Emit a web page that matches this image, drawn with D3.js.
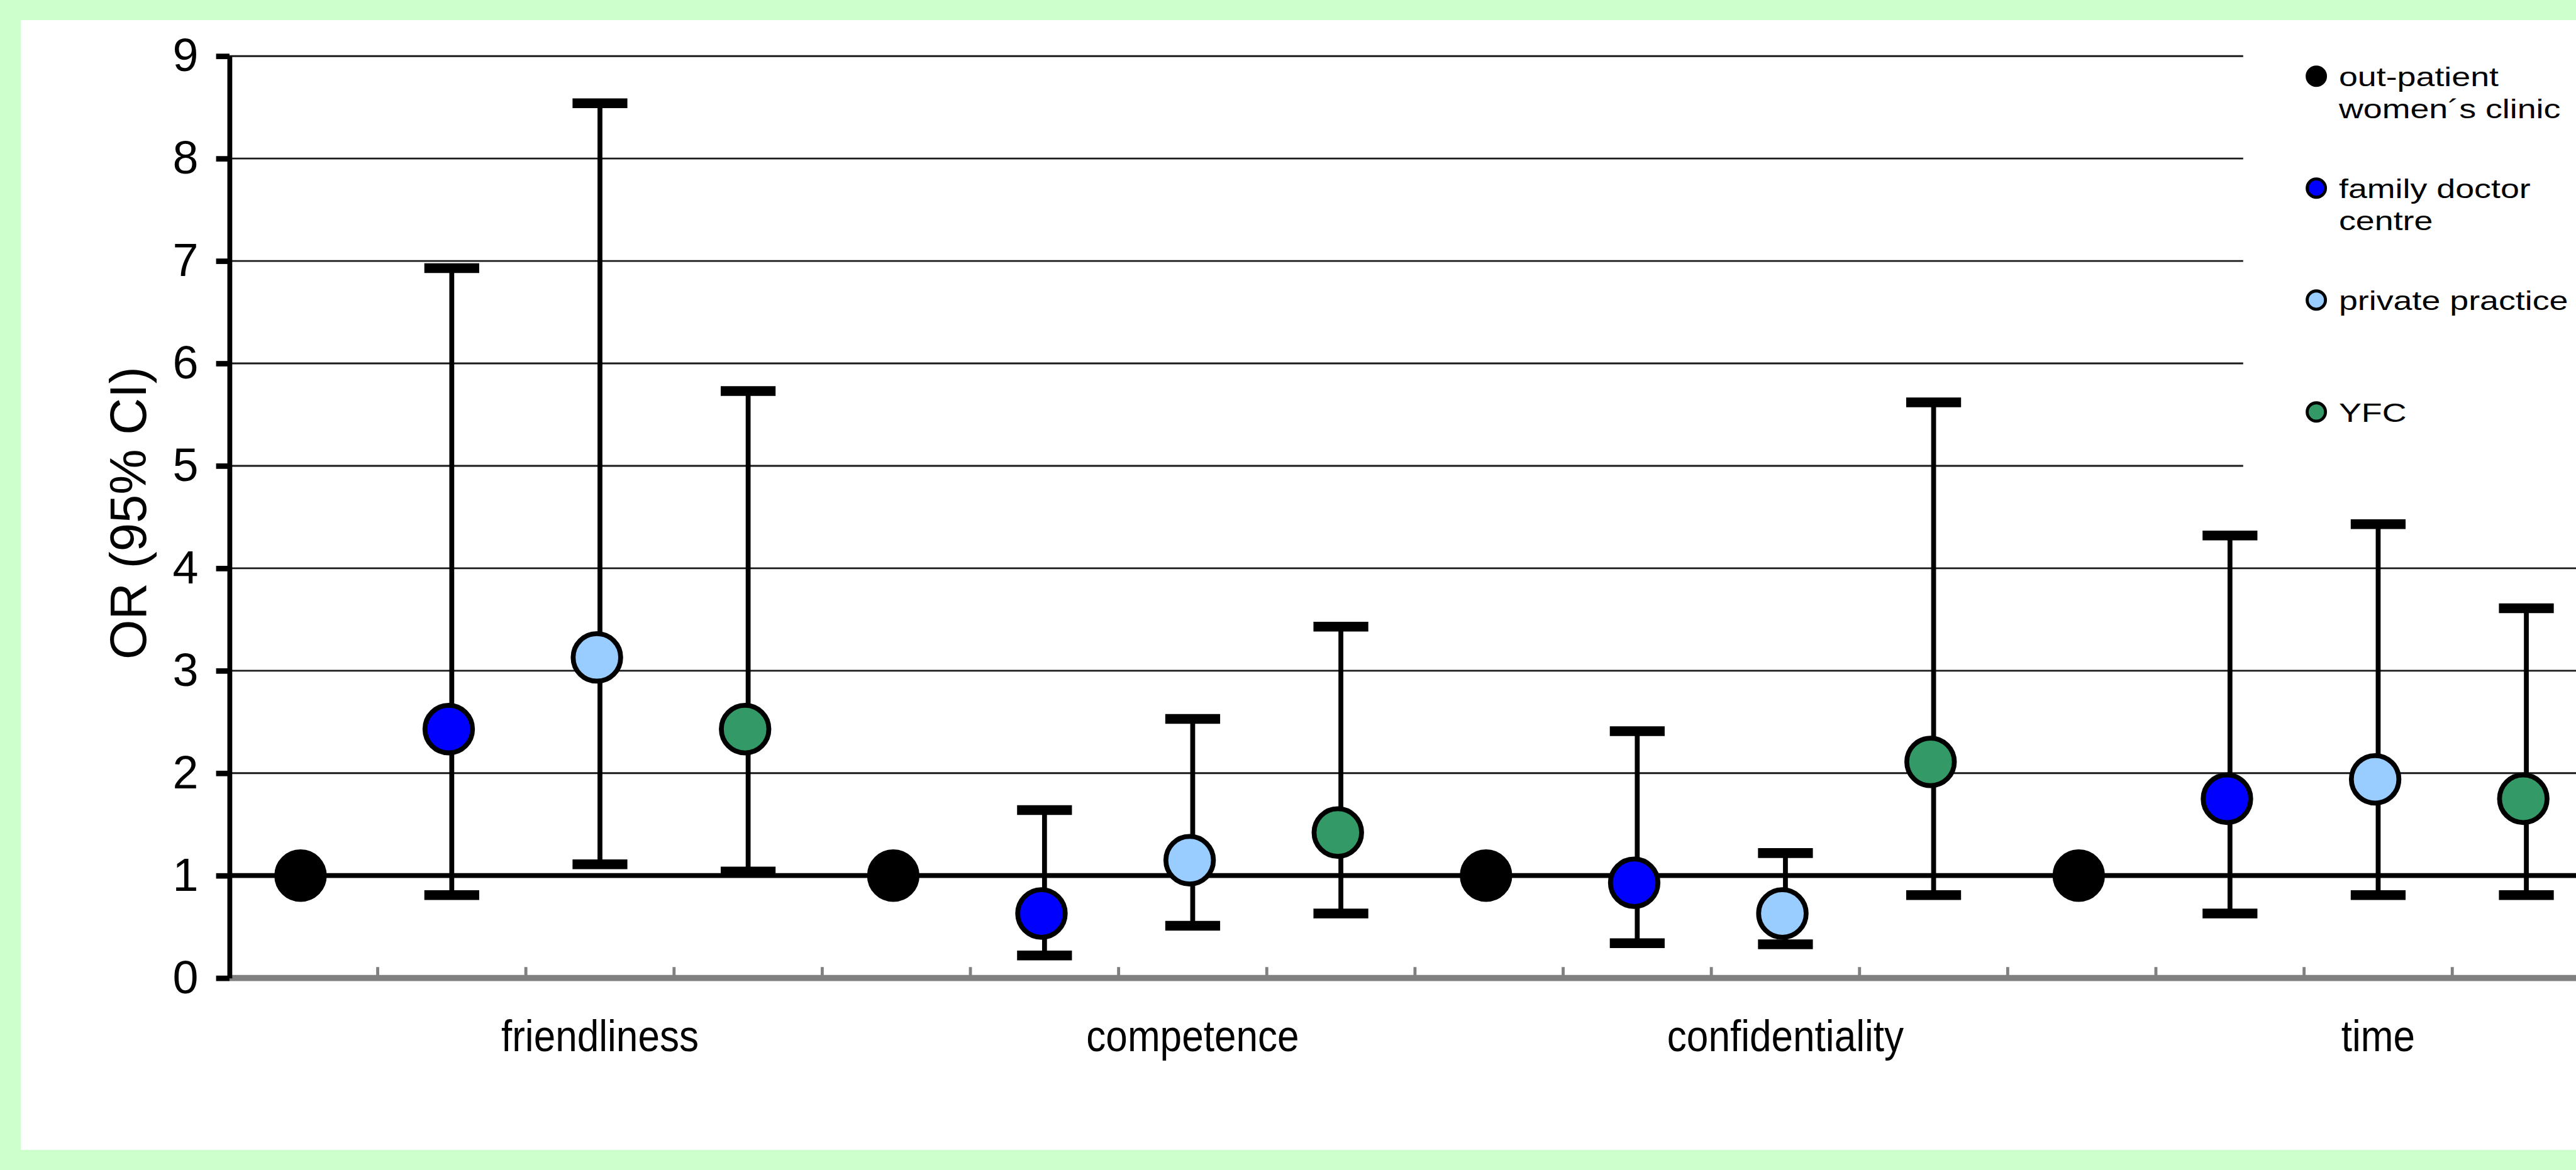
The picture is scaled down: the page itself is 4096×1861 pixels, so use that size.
<!DOCTYPE html>
<html>
<head>
<meta charset="utf-8">
<script src="https://cdn.jsdelivr.net/npm/d3@7"></script>
<style>
  body { margin: 0; overflow: hidden; background: #ccffcc; }
  text { font-family: 'Liberation Sans', Arial, sans-serif; fill: #000; }
</style>
</head>
<body>
<script>
// categories and series
var groups = ['friendliness', 'competence', 'confidentiality', 'time'];
var seriesNames = ['out-patient women´s clinic', 'family doctor centre', 'private practice', 'YFC'];
var legendLines = [['out-patient', 'women´s clinic'], ['family doctor', 'centre'], ['private practice'], ['YFC']];
var seriesColors = ['#000000', '#0000ff', '#99ccff', '#339966'];
var yTicks = [0, 1, 2, 3, 4, 5, 6, 7, 8, 9];

// odds ratios and 95% CI, one value per group
var outpatientOR = [1, 1, 1, 1];
var familyOR   = [2.43, 0.63, 0.93, 1.75];
var familyLow  = [0.81, 0.22, 0.34, 0.63];
var familyHigh = [6.93, 1.64, 2.41, 4.32];
var privateOR   = [3.13, 1.15, 0.63, 1.94];
var privateLow  = [1.11, 0.51, 0.33, 0.81];
var privateHigh = [8.54, 2.53, 1.22, 4.43];
var yfcOR   = [2.43, 1.42, 2.11, 1.75];
var yfcLow  = [1.04, 0.63, 0.81, 0.81];
var yfcHigh = [5.73, 3.43, 5.62, 3.61];

var orBySeries   = [outpatientOR, familyOR, privateOR, yfcOR];
var lowBySeries  = [null, familyLow, privateLow, yfcLow];
var highBySeries = [null, familyHigh, privateHigh, yfcHigh];

// flatten into points
var points = [];
groups.forEach(function(g, gi) {
  seriesNames.forEach(function(s, si) {
    points.push({
      group: g, series: s, si: si,
      or: orBySeries[si][gi],
      low: lowBySeries[si] ? lowBySeries[si][gi] : null,
      high: highBySeries[si] ? highBySeries[si][gi] : null
    });
  });
});

var W = 4226, H = 1920;
var svg = d3.select('body').append('svg')
    .attr('width', 4096)
    .attr('height', 1861)
    .attr('viewBox', '0 0 ' + W + ' ' + H);

// frame
svg.append('rect').attr('width', W).attr('height', H).attr('fill', '#ccffcc');
svg.append('rect').attr('x', 34).attr('y', 33).attr('width', W - 34).attr('height', 1887 - 33).attr('fill', '#fff');

var plotLeft = 376.5, step = 243.1;
var x = d3.scaleBand().domain(groups).range([plotLeft, plotLeft + 16 * step]).padding(0);
var xs = d3.scaleBand().domain(seriesNames).range([0, x.bandwidth()]).padding(0);
var y = d3.scaleLinear().domain([0, 9]).range([1605, 92]);

function cx(d) { return x(d.group) + xs(d.series) + xs.bandwidth() / 2; }

// gridlines
svg.append('g').selectAll('line')
  .data(yTicks.filter(function(t) { return t > 1; }))
  .enter().append('line')
    .attr('x1', plotLeft).attr('x2', W)
    .attr('y1', function(d) { return y(d); })
    .attr('y2', function(d) { return y(d); })
    .attr('stroke', '#1a1a1a')
    .attr('stroke-width', 3);

// legend box (white, covers gridlines)
svg.append('rect').attr('x', 3680).attr('y', 33).attr('width', W - 3680).attr('height', 820).attr('fill', '#fff');

// x axis (gray) with inner ticks
var xAxis = svg.append('g');
xAxis.append('line')
    .attr('x1', plotLeft).attr('x2', W)
    .attr('y1', y(0)).attr('y2', y(0))
    .attr('stroke', '#808080').attr('stroke-width', 10);
xAxis.selectAll('.xt')
  .data(d3.range(17))
  .enter().append('line')
    .attr('class', 'xt')
    .attr('x1', function(i) { return plotLeft + i * xs.bandwidth(); })
    .attr('x2', function(i) { return plotLeft + i * xs.bandwidth(); })
    .attr('y1', y(0)).attr('y2', y(0) - 18)
    .attr('stroke', '#808080').attr('stroke-width', 5);

// reference line at OR = 1
svg.append('line')
    .attr('x1', plotLeft).attr('x2', W)
    .attr('y1', y(1)).attr('y2', y(1))
    .attr('stroke', '#000').attr('stroke-width', 8);

// y axis
var yAxis = svg.append('g')
    .attr('transform', 'translate(' + plotLeft + ',0)')
    .call(d3.axisLeft(y).tickValues(yTicks).tickSize(22).tickPadding(29).tickSizeOuter(0));
yAxis.select('.domain').attr('stroke', '#000').attr('stroke-width', 8);
yAxis.selectAll('.tick line').attr('stroke', '#000').attr('stroke-width', 9);
yAxis.selectAll('.tick text')
    .attr('font-size', 76)
    .attr('font-family', "'Liberation Sans', Arial, sans-serif")
    .attr('fill', '#000');

// y title
svg.append('text')
    .attr('transform', 'translate(239,842) rotate(-90)')
    .attr('text-anchor', 'middle')
    .attr('font-size', 84)
    .text('OR (95% CI)');

// group labels, under the third series of each group
svg.append('g').selectAll('g')
  .data(groups)
  .enter().append('g')
    .attr('transform', function(g) {
      return 'translate(' + (x(g) + xs(seriesNames[2]) + xs.bandwidth() / 2) + ',1725) scale(0.89,1)';
    })
  .append('text')
    .attr('text-anchor', 'middle')
    .attr('font-size', 72)
    .text(function(g) { return g; });

// error bars
var bars = points.filter(function(d) { return d.low != null; });
var eb = svg.append('g').selectAll('g').data(bars).enter().append('g');
eb.append('line')
    .attr('x1', cx).attr('x2', cx)
    .attr('y1', function(d) { return y(d.low); })
    .attr('y2', function(d) { return y(d.high); })
    .attr('stroke', '#000').attr('stroke-width', 8);
eb.append('line')
    .attr('x1', function(d) { return cx(d) - 45; })
    .attr('x2', function(d) { return cx(d) + 45; })
    .attr('y1', function(d) { return y(d.high); })
    .attr('y2', function(d) { return y(d.high); })
    .attr('stroke', '#000').attr('stroke-width', 16);
eb.append('line')
    .attr('x1', function(d) { return cx(d) - 45; })
    .attr('x2', function(d) { return cx(d) + 45; })
    .attr('y1', function(d) { return y(d.low); })
    .attr('y2', function(d) { return y(d.low); })
    .attr('stroke', '#000').attr('stroke-width', 16);

// points
var dotShift = -5;
svg.append('g').selectAll('circle')
  .data(points)
  .enter().append('circle')
    .attr('cx', function(d) { return cx(d) + dotShift; })
    .attr('cy', function(d) { return y(d.or); })
    .attr('r', 39)
    .attr('fill', function(d) { return seriesColors[d.si]; })
    .attr('stroke', '#000')
    .attr('stroke-width', 8);

// legend
var leg = svg.append('g').selectAll('g')
  .data(seriesNames)
  .enter().append('g')
    .attr('transform', function(d, i) { return 'translate(3800,' + (125 + i * 183.7) + ')'; });
leg.append('circle')
    .attr('r', 15)
    .attr('fill', function(d, i) { return seriesColors[i]; })
    .attr('stroke', '#000')
    .attr('stroke-width', 5);
leg.each(function(d, i) {
  var lines = legendLines[i];
  var gg = d3.select(this);
  lines.forEach(function(line, li) {
    gg.append('g')
        .attr('transform', 'translate(37,' + (16 + li * 53) + ') scale(1.29,1)')
      .append('text')
        .attr('font-size', 43)
        .text(line);
  });
});
</script>
</body>
</html>
